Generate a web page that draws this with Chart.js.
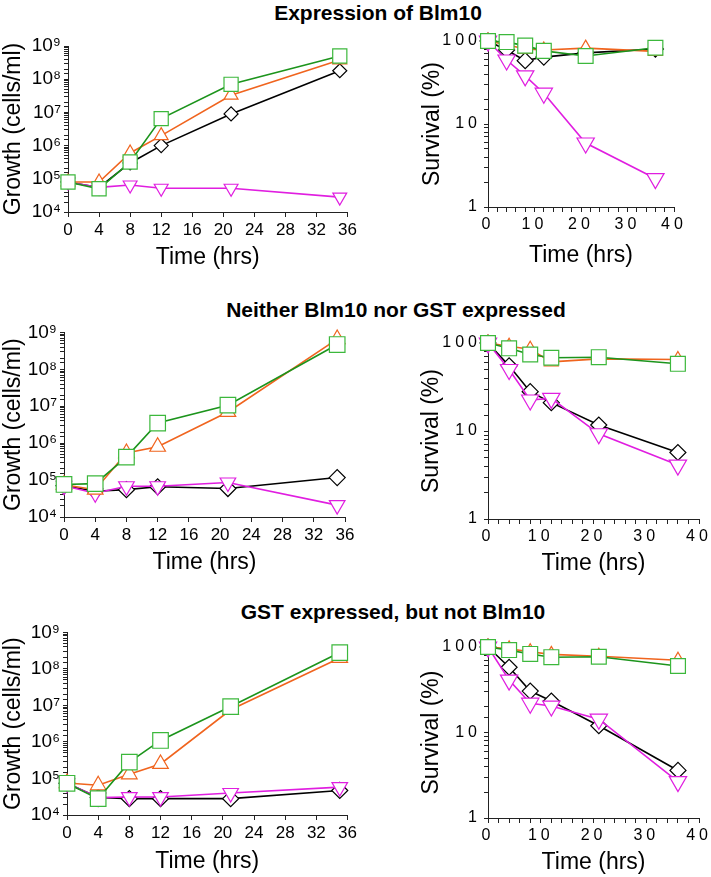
<!DOCTYPE html>
<html>
<head>
<meta charset="utf-8">
<script src="https://cdn.jsdelivr.net/npm/chart.js@4"></script>
<style>
  body { margin: 0; background: #fff; }
  #page { position: relative; width: 711px; height: 877px; background: #fff; font-family: "Liberation Sans", Arial, sans-serif; }
  .title { position: absolute; transform: translate(-50%, -50%); font-weight: bold; font-size: 21px; white-space: nowrap; color: #000; }
  .box { position: absolute; }
</style>
</head>
<body>
<div id="page">
  <div class="title" style="left:378px;top:13px">Expression of Blm10</div>
  <div class="title" style="left:396px;top:310px">Neither Blm10 nor GST expressed</div>
  <div class="title" style="left:393px;top:612px">GST expressed, but not Blm10</div>

  <div class="box" style="left:0;top:28px;width:360px;height:262px"><canvas id="growthA"></canvas></div>
  <div class="box" style="left:400px;top:28px;width:311px;height:262px"><canvas id="survA"></canvas></div>
  <div class="box" style="left:0;top:318px;width:360px;height:262px"><canvas id="growthB"></canvas></div>
  <div class="box" style="left:400px;top:318px;width:311px;height:262px"><canvas id="survB"></canvas></div>
  <div class="box" style="left:0;top:618px;width:360px;height:259px"><canvas id="growthC"></canvas></div>
  <div class="box" style="left:400px;top:618px;width:311px;height:259px"><canvas id="survC"></canvas></div>
</div>

<script>
// time points (hrs)
const growthTime = [0, 4, 8, 12, 21, 35];
const survivalTime = [0, 4, 8, 12, 21, 36];

// Expression of Blm10
const growthA_black = [8e4, 5.5e4, 3e5, 1e6, 9e6, 1.8e8];
const growthA_orange = [8e4, 8e4, 6e5, 2e6, 3.3e7, 3.8e8];
const growthA_green = [8e4, 5e4, 3.2e5, 6.5e6, 7e7, 5e8];
const growthA_magenta = [8e4, 5.5e4, 6.5e4, 5.2e4, 5.2e4, 2.8e4];
const survA_black = [100, 78, 58, 64, 72, 80];
const survA_orange = [100, 90, 80, 78, 82, 75];
const survA_green = [100, 97, 88, 76, 66, 83];
const survA_magenta = [100, 59, 38, 23.5, 5.9, 2.2];

// Neither Blm10 nor GST expressed
const growthB_black = [7e4, 5e4, 5.5e4, 6.6e4, 5.9e4, 1.17e5];
const growthB_orange = [7.5e4, 5.5e4, 5.4e5, 8e5, 7e6, 6.6e8];
const growthB_green = [7.6e4, 8e4, 4.2e5, 3.5e6, 1.07e7, 4.7e8];
const growthB_magenta = [7e4, 4.4e4, 6.8e4, 6.8e4, 8.6e4, 2.1e4];
const survB_black = [100, 55, 28, 21, 11.7, 5.7];
const survB_orange = [100, 92, 85, 61, 66, 65];
const survB_green = [100, 87, 74, 68, 69, 58];
const survB_magenta = [100, 50, 22.5, 23.5, 9.3, 4.1];

// GST expressed, but not Blm10
const growthC_black = [7.4e4, 3e4, 2.8e4, 2.8e4, 2.8e4, 4.7e4];
const growthC_orange = [7.5e4, 6.5e4, 1.3e5, 2.5e5, 7.6e6, 2e8];
const growthC_green = [7.4e4, 2.8e4, 2.8e5, 1.1e6, 9.3e6, 2.8e8];
const growthC_magenta = [7.4e4, 3e4, 3.1e4, 3.1e4, 4e4, 5.8e4];
const survC_black = [100, 58, 30.5, 23.3, 12, 3.6];
const survC_orange = [100, 95, 88, 82, 78, 70];
const survC_green = [100, 92, 83, 76, 77, 60];
const survC_magenta = [100, 41, 22, 20.4, 14.3, 2.66];

const growthTicks = [1e4, 1e5, 1e6, 1e7, 1e8, 1e9];
const survivalLabels = [1, 10, 100];

const FONT = '"Liberation Sans", Arial, sans-serif';
const sup = { 4: '\u2074', 5: '\u2075', 6: '\u2076', 7: '\u2077', 8: '\u2078', 9: '\u2079' };

// letter spacing for tick labels only (labels drawn after datasets, titles before)
const spacingPlugin = {
  id: 'tickSpacing',
  afterDatasetsDraw(chart, args, opts) {
    chart.ctx.letterSpacing = opts.spacing || '0px';
  },
  afterDraw(chart) {
    chart.ctx.letterSpacing = '0px';
  }
};

function series(times, values, line, marker, style, radius, rotation) {
  return {
    data: times.map((t, i) => ({ x: t, y: values[i] })),
    borderColor: line,
    borderWidth: 1.6,
    pointStyle: style,
    pointRadius: radius,
    pointRotation: rotation || 0,
    pointBorderColor: marker,
    pointBackgroundColor: '#fff',
    pointBorderWidth: 1.2,
    clip: false,
    tension: 0
  };
}

function makeChart(id, datasets, o) {
  const titleFont = { family: FONT, size: 23 };
  return new Chart(document.getElementById(id), {
    type: 'line',
    data: { datasets },
    plugins: [spacingPlugin],
    options: {
      animation: false,
      responsive: true,
      maintainAspectRatio: false,
      layout: { padding: { top: o.padTop, right: o.padRight, left: 0, bottom: 0 } },
      plugins: {
        legend: { display: false },
        tooltip: { enabled: false },
        tickSpacing: { spacing: o.spacing }
      },
      scales: {
        x: {
          type: 'linear',
          min: 0,
          max: o.xMax,
          afterFit: s => { s.height = o.xHeight; },
          ticks: {
            stepSize: o.xStep,
            autoSkip: false,
            maxRotation: 0,
            color: '#000',
            font: { family: FONT, size: o.xTickSize },
            padding: 3,
            z: 1,
            callback: o.xLabel
          },
          grid: { drawOnChartArea: false, tickLength: 5, color: '#222' },
          border: { color: '#222', width: 1 },
          title: { display: true, text: 'Time (hrs)', color: '#000', font: titleFont, padding: { top: 0, bottom: o.xTitlePad } }
        },
        y: {
          type: 'logarithmic',
          min: o.yMin,
          max: o.yMax,
          afterFit: s => { s.width = o.yWidth; },
          ticks: {
            autoSkip: false,
            color: '#000',
            font: { family: FONT, size: o.yTickSize },
            padding: 3,
            z: 1,
            callback: o.yLabel
          },
          grid: { drawOnChartArea: false, tickLength: 4, color: '#222' },
          border: { color: '#222', width: 1 },
          title: { display: true, text: o.yTitle, color: '#000', font: titleFont, padding: { top: o.yTitlePad, bottom: 0 } }
        }
      }
    }
  });
}

const BLACK = '#000000';
const ORANGE = '#f0641e';
const GREEN_LINE = '#1c941c';
const GREEN_MARK = '#3cb83c';
const MAGENTA = '#e01ee0';

function growthLabel(v) {
  const e = Math.round(Math.log10(v));
  return growthTicks.includes(v) ? '10' + sup[e] : '';
}
function survLabel(v) {
  return survivalLabels.includes(v) ? String(v) : '';
}
function growthX(v) { return String(v); }
function survX(v) { return v % 10 === 0 ? String(v) : ''; }

function growthSets(black, orange, green, magenta, big) {
  const k = big ? 1 : 0;
  return [
    series(growthTime, green, GREEN_LINE, GREEN_MARK, 'rect', 10 + k),
    series(growthTime, orange, ORANGE, ORANGE, 'triangle', 8 + k),
    series(growthTime, magenta, MAGENTA, MAGENTA, 'triangle', 8 + k, 180),
    series(growthTime, black, BLACK, BLACK, 'rectRot', 7 + k)
  ];
}
function survSets(black, orange, green, magenta) {
  return [
    series(survivalTime, green, GREEN_LINE, GREEN_MARK, 'rect', 10.5),
    series(survivalTime, orange, ORANGE, ORANGE, 'triangle', 8),
    series(survivalTime, magenta, MAGENTA, MAGENTA, 'triangle', 10, 180),
    series(survivalTime, black, BLACK, BLACK, 'rectRot', 8)
  ];
}

const growthBase = { xMax: 36, xStep: 4, xLabel: growthX, xTickSize: 17, yMin: 1e4, yMax: 1e9, yLabel: growthLabel, yTickSize: 19, yTitle: 'Growth (cells/ml)', spacing: '0px' };
const survBase = { xMax: 40, xStep: 2, xLabel: survX, xTickSize: 16, yMin: 1, yMax: 100, yLabel: survLabel, yTickSize: 16, yTitle: 'Survival (%)', spacing: '4px' };

makeChart('growthA', growthSets(growthA_black, growthA_orange, growthA_green, growthA_magenta),
  Object.assign({}, growthBase, { padTop: 18, padRight: 11, xHeight: 78, yWidth: 68, xTitlePad: 19, yTitlePad: 0 }));
makeChart('survA', survSets(survA_black, survA_orange, survA_green, survA_magenta),
  Object.assign({}, survBase, { padTop: 13, padRight: 37, xHeight: 83, yWidth: 88, xTitlePad: 21, yTitlePad: 19 }));

makeChart('growthB', growthSets(growthB_black, growthB_orange, growthB_green, growthB_magenta, true),
  Object.assign({}, growthBase, { padTop: 5, padRight: 15, xHeight: 63, yWidth: 64, xTitlePad: 4, yTitlePad: 0 }));
makeChart('survB', survSets(survB_black, survB_orange, survB_green, survB_magenta),
  Object.assign({}, survBase, { padTop: 25, padRight: 12, xHeight: 61, yWidth: 88, xTitlePad: 3, yTitlePad: 18 }));

makeChart('growthC', growthSets(growthC_black, growthC_orange, growthC_green, growthC_magenta, true),
  Object.assign({}, growthBase, { padTop: 6, padRight: 10, xHeight: 62, yWidth: 67, xTitlePad: 2, yTitlePad: 0 }));
makeChart('survC', survSets(survC_black, survC_orange, survC_green, survC_magenta),
  Object.assign({}, survBase, { padTop: 29, padRight: 10, xHeight: 59, yWidth: 88, xTitlePad: 1, yTitlePad: 18 }));
</script>
</body>
</html>
